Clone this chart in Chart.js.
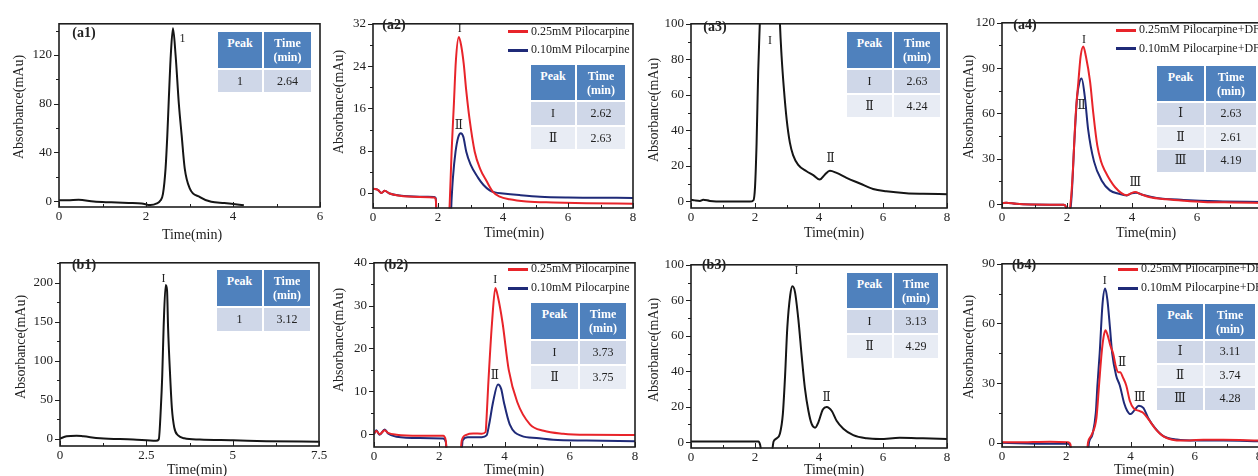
<!DOCTYPE html>
<html>
<head>
<meta charset="utf-8">
<script src="https://cdn.jsdelivr.net/npm/chart.js@4.4.0/dist/chart.umd.min.js"></script>
<style>
  body { margin: 0; width: 1258px; height: 476px; overflow: hidden; background: #fff; position: relative; font-family: "Liberation Serif", "DejaVu Serif", serif; color: #222; }
  canvas, .lbl, .tbl, .leg { position: absolute; }
  .lbl { transform: translate(-50%, -50%); white-space: nowrap; }
  .ytitle { font-size: 14px; transform: translate(-50%, -50%) rotate(-90deg); }
  .xtitle { font-size: 14px; }
  .panel { font-size: 14px; font-weight: bold; }
  .tbl div { position: absolute; text-align: center; font-size: 12px; box-sizing: border-box; }
  .tbl .hd { background: #4f81bd; color: #fff; font-weight: bold; line-height: 14px; padding-top: 4px; }
  .tbl .r0 { background: #cfd7e8; }
  .tbl .r1 { background: #e8ecf4; }
  .leg { font-size: 12px; white-space: nowrap; }
  .leg span { display: inline-block; width: 20px; height: 3px; vertical-align: middle; margin-right: 3px; }
</style>
</head>
<body>
<script>
// ---- data (time in min, absorbance in mAu) ----
const a1Time = [0, 0.2, 0.45, 0.8, 1.2, 1.6, 1.9, 2.1, 2.25, 2.33, 2.39, 2.45, 2.49, 2.52, 2.57, 2.62, 2.68, 2.755, 2.82, 2.89, 3.0, 3.24, 3.5, 3.8, 4.05, 4.25];
const a1Abs  = [0.8, 0.8, 1.3, -0.3, -0.9, -1.4, -1.8, -3.2, -1.8, 0.5, 6, 27, 54, 80, 120, 142, 120, 80, 54, 27, 11, 3.4, -0.5, -1.5, -2.5, -3.3];

const a2RedTime  = [0, 0.15, 0.26, 0.36, 0.51, 0.82, 1.44, 1.88, 1.93, 1.97, 2.32, 2.36, 2.42, 2.49, 2.55, 2.64, 2.71, 2.79, 2.87, 2.97, 3.13, 3.3, 3.49, 3.69, 3.9, 4.2, 4.72, 5.54, 6.56, 8];
const a2RedAbs   = [0.8, 0.6, 0, 0.4, -0.1, -0.55, -0.75, -0.85, -1.2, -6, -6, -2, 8, 17, 25, 29.5, 28, 24.5, 19.3, 14, 7.8, 4.5, 2.3, 0.2, -0.7, -1.2, -1.6, -1.8, -1.95, -2.05];
const a2BlueTime = [0, 0.15, 0.26, 0.36, 0.51, 0.82, 1.44, 1.88, 1.93, 1.97, 2.38, 2.42, 2.46, 2.54, 2.62, 2.70, 2.78, 2.87, 3.0, 3.23, 3.4, 3.59, 3.75, 4.0, 4.5, 5.14, 6.0, 7.0, 8];
const a2BlueAbs  = [0.8, 0.6, 0, 0.4, -0.1, -0.5, -0.7, -0.75, -1.0, -6, -6, -1, 2.9, 7.8, 10.5, 11.3, 10.6, 7.8, 5.4, 2.9, 1.5, 0.5, 0.1, -0.1, -0.4, -0.7, -0.85, -0.9, -0.95];

const a3Time = [0, 0.12, 0.28, 0.38, 0.59, 1.0, 1.84, 1.95, 2.0, 2.05, 2.1, 2.15, 2.25, 2.45, 2.6, 2.7, 2.78, 2.83, 2.9, 2.99, 3.09, 3.19, 3.35, 3.61, 3.82, 4.02, 4.18, 4.34, 4.55, 4.86, 5.28, 5.69, 6.1, 6.73, 7.25, 8];
const a3Abs  = [0.9, 0.5, 0.2, 0.9, 0.2, -0.2, -0.2, 0.5, 7.8, 33, 73, 100, 150, 190, 195, 150, 100, 82, 64, 46, 33, 26, 20.5, 16.9, 14.7, 12.2, 15, 17.2, 16, 13.2, 10, 6.9, 5.6, 4.5, 4.2, 4];

const a4RedTime  = [0, 0.13, 0.44, 1.47, 1.9, 1.96, 2.0, 2.08, 2.12, 2.17, 2.27, 2.35, 2.42, 2.5, 2.58, 2.71, 2.81, 2.93, 3.05, 3.17, 3.48, 3.84, 3.95, 4.1, 4.25, 4.56, 5.07, 5.59, 6.2, 7.13, 8];
const a4RedAbs   = [0.6, 1, 0.2, -0.4, -0.4, -1.5, -5, -4, 3, 18, 60, 81, 98, 104.4, 98, 81, 60, 39, 28, 21.9, 11.2, 5.9, 7, 8, 6.8, 4.5, 3.2, 2.3, 1.5, 1.1, 0.8];
const a4BlueTime = [0, 0.13, 0.44, 1.47, 1.9, 1.96, 2.0, 2.1, 2.15, 2.22, 2.31, 2.38, 2.45, 2.55, 2.65, 2.83, 3.07, 3.32, 3.6, 3.84, 3.99, 4.12, 4.35, 4.76, 5.59, 6.62, 8];
const a4BlueAbs  = [0.6, 1, 0.2, -0.4, -0.4, -1.5, -5, -4, 8, 38.9, 70.8, 80.5, 83.2, 70.8, 49.5, 28.3, 15.5, 9.1, 6.8, 5.8, 7.2, 7.6, 6, 4.1, 2.8, 1.9, 1.5];

const b1Time = [0, 0.19, 0.48, 0.68, 1.16, 2.12, 2.78, 2.86, 2.92, 2.96, 3.0, 3.06, 3.1, 3.13, 3.19, 3.24, 3.31, 3.42, 3.6, 4.05, 5.01, 5.98, 7.5];
const b1Abs  = [0, 2.9, 3.7, 2.9, 0.5, -1.2, -2.9, -1, 39, 80, 142, 197, 190, 142, 80, 39, 14, 4, 0.5, -1.2, -2.1, -3.3, -4.1];

const b2RedTime  = [0, 0.07, 0.17, 0.33, 0.43, 0.69, 1.4, 2.12, 2.2, 2.25, 2.63, 2.69, 2.83, 3.04, 3.3, 3.42, 3.45, 3.5, 3.62, 3.72, 3.8, 3.94, 4.13, 4.39, 4.78, 5.2, 5.8, 6.52, 8];
const b2RedAbs   = [0.15, 0.75, 0, 0.9, 0.3, -0.15, -0.4, -0.4, -1.5, -6, -6, -1.5, -0.15, 0.15, 0.1, 0.5, 3.7, 11.3, 26.3, 34.1, 32, 26, 15, 7.5, 2.3, 0.8, 0.1, -0.15, -0.2];
const b2BlueTime = [0, 0.07, 0.17, 0.33, 0.43, 0.69, 1.4, 2.12, 2.2, 2.25, 2.66, 2.72, 2.88, 3.3, 3.45, 3.53, 3.65, 3.8, 3.9, 3.98, 4.16, 4.52, 4.98, 5.49, 6.52, 8];
const b2BlueAbs  = [0, 0.9, -0.15, 1.1, 0.15, -0.6, -0.9, -1.0, -1.8, -6, -6, -1.4, -0.75, -0.7, -0.3, 2.3, 7.5, 11.6, 10.5, 7.5, 2.3, -0.4, -0.9, -1.3, -1.5, -1.65];

const b3Time = [0, 2.11, 2.16, 2.21, 2.52, 2.58, 2.68, 2.78, 2.87, 2.94, 3.01, 3.1, 3.17, 3.25, 3.36, 3.46, 3.56, 3.67, 3.77, 3.88, 3.98, 4.12, 4.24, 4.4, 4.55, 4.76, 5.07, 5.49, 5.9, 6.52, 7.25, 8];
const b3Abs  = [0.4, 0.4, -1.4, -6, -6, 0.4, 2.2, 4.9, 15.8, 37.5, 64.7, 82.8, 87.9, 84.6, 68.3, 48.4, 30.3, 17.6, 10.3, 8.2, 11.2, 18.5, 19.9, 17.6, 12.1, 7.6, 4, 2.2, 1.8, 2.5, 2.2, 1.8];

const b4RedTime  = [0, 0.45, 1.49, 2.06, 2.13, 2.17, 2.63, 2.68, 2.79, 2.94, 3.02, 3.1, 3.16, 3.22, 3.29, 3.37, 3.46, 3.55, 3.62, 3.68, 3.76, 3.87, 3.98, 4.1, 4.27, 4.4, 4.55, 4.8, 5.05, 5.6, 6.27, 6.89, 8];
const b4RedAbs   = [0.3, 0.2, 0.5, 0.3, -0.8, -6, -6, 0.3, 4, 12.5, 28.7, 44.9, 53, 56.6, 54, 49, 44.9, 38, 35.5, 35.5, 33, 28.7, 21, 17.3, 16, 15, 12, 6.5, 3, 1.1, 1.5, 1.5, 1.1];
const b4BlueTime = [0, 1.49, 2.06, 2.13, 2.17, 2.66, 2.71, 2.82, 2.92, 2.97, 3.04, 3.13, 3.21, 3.28, 3.36, 3.43, 3.55, 3.67, 3.8, 3.9, 4.0, 4.12, 4.26, 4.4, 4.55, 4.76, 5.01, 5.44, 6.06, 6.89, 8];
const b4BlueAbs  = [0, -0.5, -0.5, -2.1, -6, -6, 0.3, 4.4, 15, 28.7, 44.9, 70, 77.6, 72, 58, 44.9, 34, 28.7, 20, 16, 14.4, 16.3, 18.6, 17.5, 12.5, 7.5, 3.5, 1.6, 1.1, 1.1, 0.8];

// ---- axis ticks ----
const a1XTicks = [0, 2, 4, 6],        a1YTicks = [0, 40, 80, 120];
const a2XTicks = [0, 2, 4, 6, 8],     a2YTicks = [0, 8, 16, 24, 32];
const a3XTicks = [0, 2, 4, 6, 8],     a3YTicks = [0, 20, 40, 60, 80, 100];
const a4XTicks = [0, 2, 4, 6, 8],     a4YTicks = [0, 30, 60, 90, 120];
const b1XTicks = [0, 2.5, 5, 7.5],    b1YTicks = [0, 50, 100, 150, 200];
const b2XTicks = [0, 2, 4, 6, 8],     b2YTicks = [0, 10, 20, 30, 40];
const b3XTicks = [0, 2, 4, 6, 8],     b3YTicks = [0, 20, 40, 60, 80, 100];
const b4XTicks = [0, 2, 4, 6, 8],     b4YTicks = [0, 30, 60, 90];
const b3YTickLabels = ['0', '20', '40', '60', '60', '100'];   // as printed in the figure

// ---- peak tables ----
const a1PeakIds = ['1'],           a1PeakTimes = ['2.64'];
const a2PeakIds = ['I', 'Ⅱ'],      a2PeakTimes = ['2.62', '2.63'];
const a3PeakIds = ['I', 'Ⅱ'],      a3PeakTimes = ['2.63', '4.24'];
const a4PeakIds = ['Ⅰ', 'Ⅱ', 'Ⅲ'], a4PeakTimes = ['2.63', '2.61', '4.19'];
const b1PeakIds = ['1'],           b1PeakTimes = ['3.12'];
const b2PeakIds = ['I', 'Ⅱ'],      b2PeakTimes = ['3.73', '3.75'];
const b3PeakIds = ['I', 'Ⅱ'],      b3PeakTimes = ['3.13', '4.29'];
const b4PeakIds = ['Ⅰ', 'Ⅱ', 'Ⅲ'], b4PeakTimes = ['3.11', '3.74', '4.28'];

// ---- peak marks on the curves (time, absorbance) ----
const a1Peaks = [['1', 2.84, 133.6]];
const a2Peaks = [['I', 2.67, 31.1], ['Ⅱ', 2.64, 12.6]];
const a3Peaks = [['I', 2.47, 90.5], ['Ⅱ', 4.36, 24.1]];
const a4Peaks = [['I', 2.52, 109], ['Ⅱ', 2.45, 65.3], ['Ⅲ', 4.1, 13.8]];
const b1Peaks = [['I', 3.0, 205.4]];
const b2Peaks = [['I', 3.72, 36], ['Ⅱ', 3.7, 13.7]];
const b3Peaks = [['I', 3.3, 96.4], ['Ⅱ', 4.24, 24.8]];
const b4Peaks = [['I', 3.2, 81.4], ['Ⅱ', 3.74, 40], ['Ⅲ', 4.29, 22.7]];

const legendA = ['0.25mM Pilocarpine', '0.10mM Pilocarpine'];
const legendB = ['0.25mM Pilocarpine+DF', '0.10mM Pilocarpine+DF'];

const RED = '#e8242a', BLUE = '#1f2a78', BLACK = '#151515';

function pts(t, v) { return t.map((x, i) => ({x: x, y: v[i]})); }

// plot box = [left, top, right, bottom] in page pixels
const panels = [
  {name: '(a1)', box: [59, 17, 320, 207], x: [0, 6], y: [-4.75, 145.6], xTicks: a1XTicks, yTicks: a1YTicks,
   series: [[a1Time, a1Abs, BLACK]], peaks: a1Peaks, label: [84, 33], yt: [19, 107], xt: [192, 235],
   table: {left: 218, top: 32, c1: 44, c2: 47, head: 36, row: 22, ids: a1PeakIds, times: a1PeakTimes}},
  {name: '(a2)', box: [373.3, 17.3, 633.3, 208.3], x: [0, 8], y: [-2.85, 32], xTicks: a2XTicks, yTicks: a2YTicks,
   series: [[a2RedTime, a2RedAbs, RED], [a2BlueTime, a2BlueAbs, BLUE]], peaks: a2Peaks, label: [394, 25], yt: [339, 102], xt: [514, 233],
   table: {left: 531, top: 65, c1: 44, c2: 48, head: 35, row: 22.5, ids: a2PeakIds, times: a2PeakTimes},
   legend: {left: 508, top: 31.7, names: legendA}},
  {name: '(a3)', box: [691, 17.3, 947.3, 208], x: [0, 8], y: [-3.8, 100], xTicks: a3XTicks, yTicks: a3YTicks,
   series: [[a3Time, a3Abs, BLACK]], peaks: a3Peaks, label: [715, 27], yt: [654, 110], xt: [834, 233],
   table: {left: 847, top: 32, c1: 45, c2: 46, head: 36, row: 22.5, ids: a3PeakIds, times: a3PeakTimes}},
  {name: '(a4)', box: [1002.3, 16, 1261.5, 208.3], x: [0, 8], y: [-2.55, 120], xTicks: a4XTicks, yTicks: a4YTicks,
   series: [[a4RedTime, a4RedAbs, RED], [a4BlueTime, a4BlueAbs, BLUE]], peaks: a4Peaks, label: [1025, 25], yt: [969, 107], xt: [1146, 233],
   table: {left: 1157, top: 66, c1: 47, c2: 50, head: 35, row: 21.5, ids: a4PeakIds, times: a4PeakTimes},
   legend: {left: 1116, top: 30, names: legendB}},
  {name: '(b1)', box: [60, 256, 319.3, 446], x: [0, 7.5], y: [-9.5, 225.6], xTicks: b1XTicks, yTicks: b1YTicks,
   series: [[b1Time, b1Abs, BLACK]], peaks: b1Peaks, label: [84, 265], yt: [21, 347], xt: [197, 470],
   table: {left: 217, top: 270, c1: 45, c2: 46, head: 36, row: 23, ids: b1PeakIds, times: b1PeakTimes}},
  {name: '(b2)', box: [374.3, 256, 635, 446.7], x: [0, 8], y: [-3, 40], xTicks: b2XTicks, yTicks: b2YTicks,
   series: [[b2RedTime, b2RedAbs, RED], [b2BlueTime, b2BlueAbs, BLUE]], peaks: b2Peaks, label: [396, 265], yt: [339, 340], xt: [514, 470],
   table: {left: 531, top: 303, c1: 47, c2: 46, head: 36, row: 23, ids: b2PeakIds, times: b2PeakTimes},
   legend: {left: 508, top: 269.3, names: legendA}},
  {name: '(b3)', box: [690.7, 258.3, 947.3, 448.3], x: [0, 8], y: [-3.26, 100], xTicks: b3XTicks, yTicks: b3YTicks, yLabels: b3YTickLabels,
   series: [[b3Time, b3Abs, BLACK]], peaks: b3Peaks, label: [714, 265], yt: [654, 350], xt: [834, 470],
   table: {left: 847, top: 273, c1: 45, c2: 44, head: 35, row: 23, ids: b3PeakIds, times: b3PeakTimes}},
  {name: '(b4)', box: [1002.3, 257.3, 1259.1, 446.7], x: [0, 8], y: [-2.14, 90], xTicks: b4XTicks, yTicks: b4YTicks,
   series: [[b4RedTime, b4RedAbs, RED], [b4BlueTime, b4BlueAbs, BLUE]], peaks: b4Peaks, label: [1024, 265], yt: [969, 347], xt: [1144, 470],
   table: {left: 1157, top: 304, c1: 46, c2: 50, head: 35, row: 21.5, ids: b4PeakIds, times: b4PeakTimes},
   legend: {left: 1118, top: 269.3, names: legendB}}
];

const PAD_L = 48, PAD_T = 8, PAD_R = 12, PAD_B = 28;
const tickFont = {family: '"Liberation Serif", serif', size: 13};

function minorOf(ticks, lo, hi) {
  const step = ticks[1] - ticks[0], out = [];
  for (let v = ticks[0] - step / 2; v <= hi; v += step) if (v >= lo) out.push(v);
  return out;
}

// box frame, tick marks and peak numerals
const framePlugin = {
  id: 'frame',
  afterDraw(chart, args, o) {
    const {ctx, chartArea: a, scales: {x, y}} = chart;
    ctx.save();
    ctx.strokeStyle = '#1e1e1e';
    ctx.lineWidth = 1;
    ctx.beginPath();
    o.p.xTicks.forEach(v => { const px = Math.round(x.getPixelForValue(v)) + 0.5; ctx.moveTo(px, a.bottom); ctx.lineTo(px, a.bottom - 5); });
    minorOf(o.p.xTicks, o.p.x[0], o.p.x[1]).forEach(v => { const px = Math.round(x.getPixelForValue(v)) + 0.5; ctx.moveTo(px, a.bottom); ctx.lineTo(px, a.bottom - 3); });
    o.p.yTicks.forEach(v => { const py = Math.round(y.getPixelForValue(v)) + 0.5; ctx.moveTo(a.left, py); ctx.lineTo(a.left - 5, py); });
    minorOf(o.p.yTicks, o.p.y[0], o.p.y[1]).forEach(v => { const py = Math.round(y.getPixelForValue(v)) + 0.5; ctx.moveTo(a.left, py); ctx.lineTo(a.left - 3, py); });
    ctx.stroke();
    ctx.lineWidth = 1.6;
    ctx.strokeRect(a.left, a.top, a.right - a.left, a.bottom - a.top);
    ctx.fillStyle = '#222';
    ctx.font = '12px "Liberation Serif", "DejaVu Serif", serif';
    ctx.textAlign = 'center';
    ctx.textBaseline = 'middle';
    o.p.peaks.forEach(k => ctx.fillText(k[0], x.getPixelForValue(k[1]), y.getPixelForValue(k[2])));
    ctx.restore();
  }
};

function addText(cls, text, cx, cy) {
  const d = document.createElement('div');
  d.className = 'lbl ' + cls;
  d.textContent = text;
  d.style.left = cx + 'px';
  d.style.top = cy + 'px';
  document.body.appendChild(d);
}

function addTable(t) {
  const box = document.createElement('div');
  box.className = 'tbl';
  box.style.left = t.left + 'px';
  box.style.top = t.top + 'px';
  const gap = 2;
  const cell = (cls, x, y, w, h, html) => {
    const c = document.createElement('div');
    c.className = cls;
    c.style.cssText = `left:${x}px;top:${y}px;width:${w}px;height:${h}px;`;
    if (cls !== 'hd') c.style.lineHeight = h + 'px';
    c.innerHTML = html;
    box.appendChild(c);
  };
  cell('hd', 0, 0, t.c1, t.head, 'Peak');
  cell('hd', t.c1 + gap, 0, t.c2, t.head, 'Time<br>(min)');
  t.ids.forEach((id, i) => {
    const y = t.head + gap + i * (t.row + gap);
    cell('r' + (i % 2), 0, y, t.c1, t.row, id);
    cell('r' + (i % 2), t.c1 + gap, y, t.c2, t.row, t.times[i]);
  });
  document.body.appendChild(box);
}

function addLegend(l) {
  [RED, BLUE].forEach((c, i) => {
    const d = document.createElement('div');
    d.className = 'leg';
    d.style.left = l.left + 'px';
    d.style.top = (l.top + i * 18.5 - 8) + 'px';
    d.innerHTML = `<span style="background:${c}"></span>${l.names[i]}`;
    document.body.appendChild(d);
  });
}

panels.forEach(p => {
  const [L, T, R, B] = p.box;
  const cv = document.createElement('canvas');
  const w = Math.round(R) - Math.round(L) + PAD_L + PAD_R;
  const h = Math.round(B) - Math.round(T) + PAD_T + PAD_B;
  cv.width = w; cv.height = h;
  cv.style.cssText = `left:${Math.round(L) - PAD_L}px;top:${Math.round(T) - PAD_T}px;width:${w}px;height:${h}px;`;
  document.body.appendChild(cv);

  new Chart(cv, {
    type: 'line',
    data: {
      datasets: p.series.map(s => ({
        data: pts(s[0], s[1]),
        borderColor: s[2],
        borderWidth: 2,
        pointRadius: 0,
        cubicInterpolationMode: 'monotone',
        clip: 0.5
      }))
    },
    options: {
      responsive: false,
      animation: false,
      events: [],
      layout: {padding: {left: 0, top: PAD_T, right: PAD_R, bottom: 0}},
      plugins: {legend: {display: false}, tooltip: {enabled: false}, frame: {p: p}},
      scales: {
        x: {
          type: 'linear', min: p.x[0], max: p.x[1],
          grid: {display: false, drawTicks: false}, border: {display: false},
          ticks: {font: tickFont, color: '#222', padding: 2, maxRotation: 0, autoSkip: false, callback: v => String(v)},
          afterBuildTicks: s => { s.ticks = p.xTicks.map(v => ({value: v})); },
          afterFit: s => { s.height = PAD_B; }
        },
        y: {
          type: 'linear', min: p.y[0], max: p.y[1],
          grid: {display: false, drawTicks: false}, border: {display: false},
          ticks: {font: tickFont, color: '#222', padding: 7, autoSkip: false,
                  callback: (v, i) => p.yLabels ? p.yLabels[i] : String(v)},
          afterBuildTicks: s => { s.ticks = p.yTicks.map(v => ({value: v})); },
          afterFit: s => { s.width = PAD_L; }
        }
      }
    },
    plugins: [framePlugin]
  });

  addText('panel', p.name, p.label[0], p.label[1]);
  addText('ytitle', 'Absorbance(mAu)', p.yt[0], p.yt[1]);
  addText('xtitle', 'Time(min)', p.xt[0], p.xt[1]);
  addTable(p.table);
  if (p.legend) addLegend(p.legend);
});
</script>
</body>
</html>
